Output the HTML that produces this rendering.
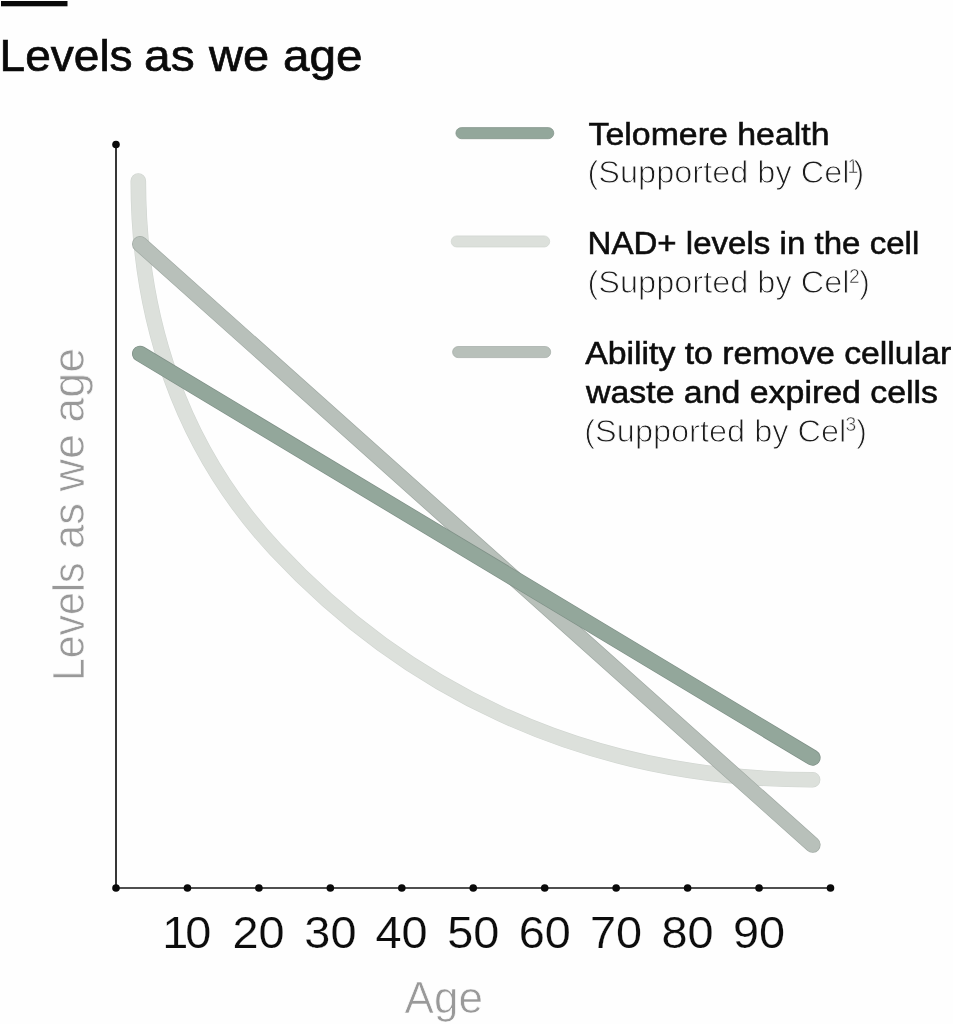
<!DOCTYPE html>
<html lang="en">
<head>
<meta charset="utf-8">
<title>Levels as we age</title>
<style>
  html, body { margin: 0; padding: 0; background: #fefefe; }
  body { width: 953px; height: 1024px; overflow: hidden; position: relative; }
  svg { position: absolute; left: 0; top: 0; display: block; will-change: transform; }
  text { font-family: "Liberation Sans", sans-serif; }
  .title { font-size: 45.2px; fill: #0a0a0a; stroke: #0a0a0a; stroke-width: 0.7px; }
  .lg-b { font-size: 31px; fill: #0d0d0d; stroke: #0d0d0d; stroke-width: 0.55px; }
  .lg-l { font-size: 32px; fill: #1c1c1c; stroke: #fefefe; stroke-width: 0.95px; }
  .sup { font-size: 19.3px; stroke-width: 0.5px; fill: #333; }
  .num { font-size: 44.6px; fill: #0c0c0c; text-anchor: middle; stroke: #fefefe; stroke-width: 0.2px; }
  .grey { fill: #999; stroke: #fefefe; stroke-width: 0.7px; }
</style>
</head>
<body>
<svg width="953" height="1024" viewBox="0 0 953 1024">
  <rect x="0" y="0" width="953" height="1024" fill="#fefefe"/>

  <!-- top bar + title -->
  <rect x="1" y="1" width="66.5" height="5.3" fill="#0a0a0a"/>
  <text class="title" y="71.1"><tspan x="-0.4" textLength="133" lengthAdjust="spacingAndGlyphs">Levels</tspan> <tspan x="144" textLength="50.6" lengthAdjust="spacingAndGlyphs">as</tspan> <tspan x="209" textLength="60" lengthAdjust="spacingAndGlyphs">we</tspan> <tspan x="283" textLength="79.5" lengthAdjust="spacingAndGlyphs">age</tspan></text>

  <!-- curves -->
  <g fill="none" stroke-linecap="round" stroke-linejoin="round">
    <path stroke="#d0d5d0" stroke-width="15.6" d="M138.3,181 C138.3,318.1 180.2,447.5 275.6,549.6 C398.4,681.2 574.0,779.7 812.6,779.7"/>
    <path stroke="#dce0db" stroke-width="14.4" d="M138.3,181 C138.3,318.1 180.2,447.5 275.6,549.6 C398.4,681.2 574.0,779.7 812.6,779.7"/>
    <line stroke="#a2aba5" stroke-width="16" x1="140" y1="244" x2="812.6" y2="844.8"/>
    <line stroke="#b8c0ba" stroke-width="14.6" x1="140" y1="244" x2="812.6" y2="844.8"/>
    <line stroke="#7f9087" stroke-width="16" x1="140" y1="353.7" x2="812.6" y2="757.7"/>
    <line stroke="#93a79b" stroke-width="14.6" x1="140" y1="353.7" x2="812.6" y2="757.7"/>
  </g>

  <!-- axes -->
  <g stroke="#141414" stroke-width="1.7" fill="none">
    <line x1="116" y1="144.5" x2="116" y2="888"/>
    <line x1="116" y1="888" x2="830.5" y2="888"/>
  </g>
  <g fill="#0a0a0a">
    <circle cx="116" cy="144.5" r="3.8"/>
    <circle cx="116" cy="888" r="3.8"/>
    <circle cx="187.45" cy="888" r="3.8"/>
    <circle cx="258.9" cy="888" r="3.8"/>
    <circle cx="330.35" cy="888" r="3.8"/>
    <circle cx="401.8" cy="888" r="3.8"/>
    <circle cx="473.25" cy="888" r="3.8"/>
    <circle cx="544.7" cy="888" r="3.8"/>
    <circle cx="616.15" cy="888" r="3.8"/>
    <circle cx="687.6" cy="888" r="3.8"/>
    <circle cx="759.05" cy="888" r="3.8"/>
    <circle cx="830.5" cy="888" r="3.8"/>
  </g>

  <!-- x tick labels -->
  <text class="num" transform="translate(185.2,947.7) scale(1.05,1)" letter-spacing="-3">10</text>
  <text class="num" transform="translate(258.6,947.7) scale(1.05,1)">20</text>
  <text class="num" transform="translate(330.4,947.7) scale(1.05,1)">30</text>
  <text class="num" transform="translate(401.6,947.7) scale(1.05,1)">40</text>
  <text class="num" transform="translate(473.2,947.7) scale(1.05,1)">50</text>
  <text class="num" transform="translate(544.7,947.7) scale(1.05,1)">60</text>
  <text class="num" transform="translate(616.1,947.7) scale(1.05,1)">70</text>
  <text class="num" transform="translate(687.6,947.7) scale(1.05,1)">80</text>
  <text class="num" transform="translate(759.0,947.7) scale(1.05,1)">90</text>

  <!-- axis titles -->
  <text class="grey" x="404.6" y="1013.4" font-size="44" textLength="78.3" lengthAdjust="spacingAndGlyphs">Age</text>
  <text class="grey" font-size="45" transform="translate(83.9,677.8) rotate(-90)"><tspan x="-3.2" textLength="118.5" lengthAdjust="spacingAndGlyphs">Levels</tspan> <tspan x="128.8" textLength="46" lengthAdjust="spacingAndGlyphs">as</tspan> <tspan x="186.3" textLength="57.5" lengthAdjust="spacingAndGlyphs">we</tspan> <tspan x="255.1" textLength="74.8" lengthAdjust="spacingAndGlyphs">age</tspan></text>

  <!-- legend -->
  <rect x="455.9" y="127.6" width="97.9" height="11.1" rx="5.5" fill="#93a79b" stroke="#7f9087" stroke-width="0.7"/>
  <rect x="451.2" y="235.9" width="98.5" height="11.1" rx="5.5" fill="#dce0db" stroke="#d0d5d0" stroke-width="0.7"/>
  <rect x="452.6" y="346.5" width="98.1" height="11.1" rx="5.5" fill="#b8c0ba" stroke="#a2aba5" stroke-width="0.7"/>

  <text class="lg-b" x="588.5" y="144.5" textLength="241" lengthAdjust="spacingAndGlyphs">Telomere health</text>
  <text class="lg-l" y="183.4"><tspan x="587.5" textLength="262" lengthAdjust="spacingAndGlyphs">(Supported by Cel</tspan><tspan class="sup" x="847.5" dy="-10.5">1</tspan><tspan x="853.5" dy="10.5">)</tspan></text>

  <text class="lg-b" x="587.5" y="253.6" textLength="331.8" lengthAdjust="spacingAndGlyphs">NAD+ levels in the cell</text>
  <text class="lg-l" y="293.3"><tspan x="587.5" textLength="262" lengthAdjust="spacingAndGlyphs">(Supported by Cel</tspan><tspan class="sup" x="849" dy="-10.5">2</tspan><tspan x="859.3" dy="10.5">)</tspan></text>

  <text class="lg-b" x="585.2" y="364.2" textLength="366" lengthAdjust="spacingAndGlyphs">Ability to remove cellular</text>
  <text class="lg-b" x="586" y="402.7" textLength="352" lengthAdjust="spacingAndGlyphs">waste and expired cells</text>
  <text class="lg-l" y="441.5"><tspan x="584.3" textLength="262" lengthAdjust="spacingAndGlyphs">(Supported by Cel</tspan><tspan class="sup" x="845.6" dy="-10.5">3</tspan><tspan x="856.3" dy="10.5">)</tspan></text>
</svg>
</body>
</html>
